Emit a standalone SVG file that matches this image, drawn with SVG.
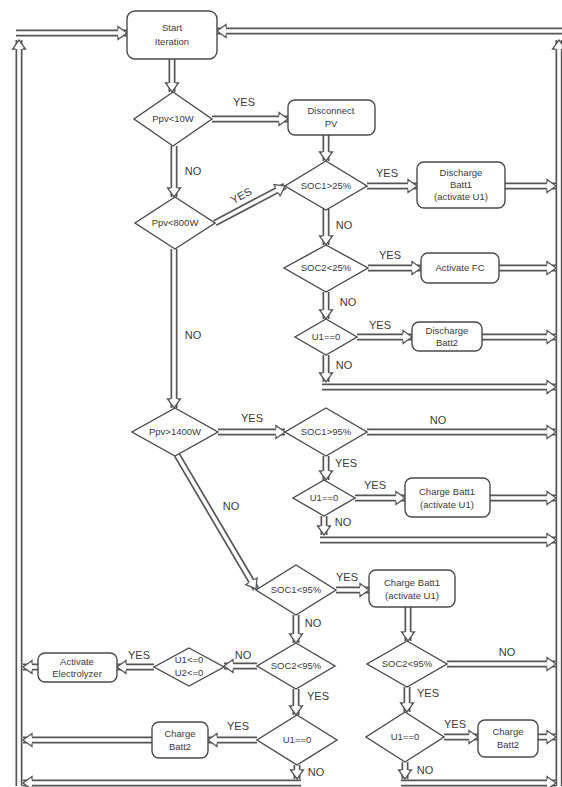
<svg xmlns="http://www.w3.org/2000/svg" width="562" height="787" viewBox="0 0 562 787">
<style>
.bx{fill:#fff;stroke:#4a4a4a;stroke-width:1.4}
.dm{fill:#fff;stroke:#4a4a4a;stroke-width:1.4}
.t{font-family:"Liberation Sans",Arial,sans-serif;font-size:9.5px;fill:#3a3a3a;text-anchor:middle}
.l{font-family:"Liberation Sans",Arial,sans-serif;font-size:11px;fill:#3a3a3a;text-anchor:middle}
.o path{fill:none;stroke:#555;stroke-width:7}
.i path{fill:none;stroke:#fff;stroke-width:3.6;marker-end:url(#ah)}
</style>
<defs>
<marker id="ah" viewBox="-1 -8 11 16" refX="9" refY="0" markerWidth="11" markerHeight="16" orient="auto" markerUnits="userSpaceOnUse">
<path d="M0,-3.5 L0,-6.5 L9,0 L0,6.5 L0,3.5" fill="#fff" stroke="#555" stroke-width="1.3" stroke-linejoin="miter"/>
</marker>
</defs>
<rect width="562" height="787" fill="#fff"/>
<g id="connectors">
<g class="o">
<path d="M172,59 V92"/>
<path d="M212,119 H288"/>
<path d="M326,135 V161"/>
<path d="M174,146 V197"/>
<path d="M215,223 L285,186"/>
<path d="M367,186 H417"/>
<path d="M505,186 H556"/>
<path d="M326,209 V245"/>
<path d="M368,268 H421"/>
<path d="M499,268 H556"/>
<path d="M326,292 V319"/>
<path d="M357,337 H412"/>
<path d="M482,337 H556"/>
<path d="M326,355 V382"/>
<path d="M322,387 H556"/>
<path d="M174,249 V408"/>
<path d="M218,432 H285"/>
<path d="M367,432 H556"/>
<path d="M326,456 V480"/>
<path d="M355,498 H405"/>
<path d="M490,498 H556"/>
<path d="M324,516 V535"/>
<path d="M320,540 H556"/>
<path d="M177,455 L256,589"/>
<path d="M336,590 H369"/>
<path d="M408,607 V641"/>
<path d="M447,664 H556"/>
<path d="M407,687 V712"/>
<path d="M444,737 H478"/>
<path d="M538,737 H556"/>
<path d="M405,762 V779"/>
<path d="M401,783 H556"/>
<path d="M296,615 V643"/>
<path d="M257,666 H224"/>
<path d="M154,667 H117"/>
<path d="M38,667 H23"/>
<path d="M296,689 V715"/>
<path d="M257,740 H208"/>
<path d="M152,740 H23"/>
<path d="M297,765 V779"/>
<path d="M301,783 H23"/>
<path d="M19,786 V40"/>
<path d="M16,33 H127"/>
<path d="M559,786 V40"/>
<path d="M565,31 H217"/>
</g>
<g class="i">
<path d="M172,59 V92"/>
<path d="M212,119 H288"/>
<path d="M326,135 V161"/>
<path d="M174,146 V197"/>
<path d="M215,223 L285,186"/>
<path d="M367,186 H417"/>
<path d="M505,186 H556"/>
<path d="M326,209 V245"/>
<path d="M368,268 H421"/>
<path d="M499,268 H556"/>
<path d="M326,292 V319"/>
<path d="M357,337 H412"/>
<path d="M482,337 H556"/>
<path d="M326,355 V382"/>
<path d="M322,387 H556"/>
<path d="M174,249 V408"/>
<path d="M218,432 H285"/>
<path d="M367,432 H556"/>
<path d="M326,456 V480"/>
<path d="M355,498 H405"/>
<path d="M490,498 H556"/>
<path d="M324,516 V535"/>
<path d="M320,540 H556"/>
<path d="M177,455 L256,589"/>
<path d="M336,590 H369"/>
<path d="M408,607 V641"/>
<path d="M447,664 H556"/>
<path d="M407,687 V712"/>
<path d="M444,737 H478"/>
<path d="M538,737 H556"/>
<path d="M405,762 V779"/>
<path d="M401,783 H556"/>
<path d="M296,615 V643"/>
<path d="M257,666 H224"/>
<path d="M154,667 H117"/>
<path d="M38,667 H23"/>
<path d="M296,689 V715"/>
<path d="M257,740 H208"/>
<path d="M152,740 H23"/>
<path d="M297,765 V779"/>
<path d="M301,783 H23"/>
<path d="M19,786 V40"/>
<path d="M16,33 H127"/>
<path d="M559,786 V40"/>
<path d="M565,31 H217"/>
</g>
<g id="labels">
<text class="l" x="244" y="106">YES</text>
<text class="l" x="193" y="175">NO</text>
<text class="l" transform="translate(243,199) rotate(-28)">YES</text>
<text class="l" x="387" y="177">YES</text>
<text class="l" x="344" y="229">NO</text>
<text class="l" x="390" y="259">YES</text>
<text class="l" x="348" y="306">NO</text>
<text class="l" x="380" y="329">YES</text>
<text class="l" x="344" y="369">NO</text>
<text class="l" x="193" y="339">NO</text>
<text class="l" x="252" y="422">YES</text>
<text class="l" x="438" y="424">NO</text>
<text class="l" x="346" y="467">YES</text>
<text class="l" x="375" y="489">YES</text>
<text class="l" x="343" y="526">NO</text>
<text class="l" x="231" y="510">NO</text>
<text class="l" x="347" y="581">YES</text>
<text class="l" x="313" y="627">NO</text>
<text class="l" x="243" y="659">NO</text>
<text class="l" x="139" y="659">YES</text>
<text class="l" x="318" y="700">YES</text>
<text class="l" x="238" y="730">YES</text>
<text class="l" x="316" y="776">NO</text>
<text class="l" x="507" y="656">NO</text>
<text class="l" x="428" y="697">YES</text>
<text class="l" x="455" y="728">YES</text>
<text class="l" x="425" y="774">NO</text>
</g>
</g>
<g id="start"><rect class="bx" x="127" y="11" width="90" height="48" rx="8"/><text class="t" x="172" y="31">Start</text><text class="t" x="172" y="45">Iteration</text></g>
<g id="d_pv10"><polygon class="dm" points="173,92 212,119 173,146 134,119"/><text class="t" x="173" y="122">Ppv&lt;10W</text></g>
<g id="d_pv800"><polygon class="dm" points="175,197 215,223 175,249 135,223"/><text class="t" x="175" y="226">Ppv&lt;800W</text></g>
<g id="d_pv1400"><polygon class="dm" points="175,408 218,432 175,456 132,432"/><text class="t" x="175" y="435">Ppv&gt;1400W</text></g>
<g id="b_disc_pv"><rect class="bx" x="288" y="100" width="87" height="35" rx="7"/><text class="t" x="331" y="114">Disconnect</text><text class="t" x="331" y="127">PV</text></g>
<g id="d_soc1_25"><polygon class="dm" points="326,161 367,186 326,210 285,186"/><text class="t" x="326" y="189">SOC1&gt;25%</text></g>
<g id="b_dis_b1"><rect class="bx" x="417" y="162" width="88" height="46" rx="7"/><text class="t" x="461" y="176">Discharge</text><text class="t" x="461" y="188">Batt1</text><text class="t" x="461" y="200">(activate U1)</text></g>
<g id="d_soc2_25"><polygon class="dm" points="326,245 368,268 326,292 284,268"/><text class="t" x="326" y="271">SOC2&lt;25%</text></g>
<g id="b_fc"><rect class="bx" x="421" y="253" width="78" height="30" rx="7"/><text class="t" x="460" y="271">Activate FC</text></g>
<g id="d_u1_a"><polygon class="dm" points="326,319 357,337 326,355 295,337"/><text class="t" x="326" y="340">U1==0</text></g>
<g id="b_dis_b2"><rect class="bx" x="412" y="322" width="70" height="29" rx="7"/><text class="t" x="447" y="334">Discharge</text><text class="t" x="447" y="346">Batt2</text></g>
<g id="d_soc1_95a"><polygon class="dm" points="326,408 367,432 326,456 285,432"/><text class="t" x="326" y="435">SOC1&gt;95%</text></g>
<g id="d_u1_b"><polygon class="dm" points="324,480 355,498 324,516 293,498"/><text class="t" x="324" y="501">U1==0</text></g>
<g id="b_chg_b1a"><rect class="bx" x="405" y="478" width="85" height="39" rx="7"/><text class="t" x="447" y="495">Charge Batt1</text><text class="t" x="447" y="508">(activate U1)</text></g>
<g id="d_soc1_95b"><polygon class="dm" points="296,565 336,590 296,615 256,590"/><text class="t" x="296" y="593">SOC1&lt;95%</text></g>
<g id="b_chg_b1b"><rect class="bx" x="369" y="570" width="86" height="37" rx="7"/><text class="t" x="412" y="586">Charge Batt1</text><text class="t" x="412" y="599">(activate U1)</text></g>
<g id="d_soc2_95a"><polygon class="dm" points="296,643 335,666 296,689 257,666"/><text class="t" x="296" y="669">SOC2&lt;95%</text></g>
<g id="d_u1u2"><polygon class="dm" points="189,648 224,667 189,686 154,667"/><text class="t" x="189" y="663">U1&lt;=0</text><text class="t" x="189" y="676">U2&lt;=0</text></g>
<g id="b_elec"><rect class="bx" x="38" y="653" width="79" height="29" rx="7"/><text class="t" x="77" y="665">Activate</text><text class="t" x="77" y="677">Electrolyzer</text></g>
<g id="d_u1_c"><polygon class="dm" points="297,715 337,740 297,765 257,740"/><text class="t" x="297" y="743">U1==0</text></g>
<g id="b_chg_b2a"><rect class="bx" x="152" y="722" width="56" height="36" rx="7"/><text class="t" x="180" y="737">Charge</text><text class="t" x="180" y="750">Batt2</text></g>
<g id="d_soc2_95b"><polygon class="dm" points="407,641 447,664 407,687 367,664"/><text class="t" x="407" y="667">SOC2&lt;95%</text></g>
<g id="d_u1_d"><polygon class="dm" points="405,712 444,737 405,762 366,737"/><text class="t" x="405" y="740">U1==0</text></g>
<g id="b_chg_b2b"><rect class="bx" x="478" y="720" width="60" height="37" rx="7"/><text class="t" x="508" y="735">Charge</text><text class="t" x="508" y="748">Batt2</text></g>
</svg>
